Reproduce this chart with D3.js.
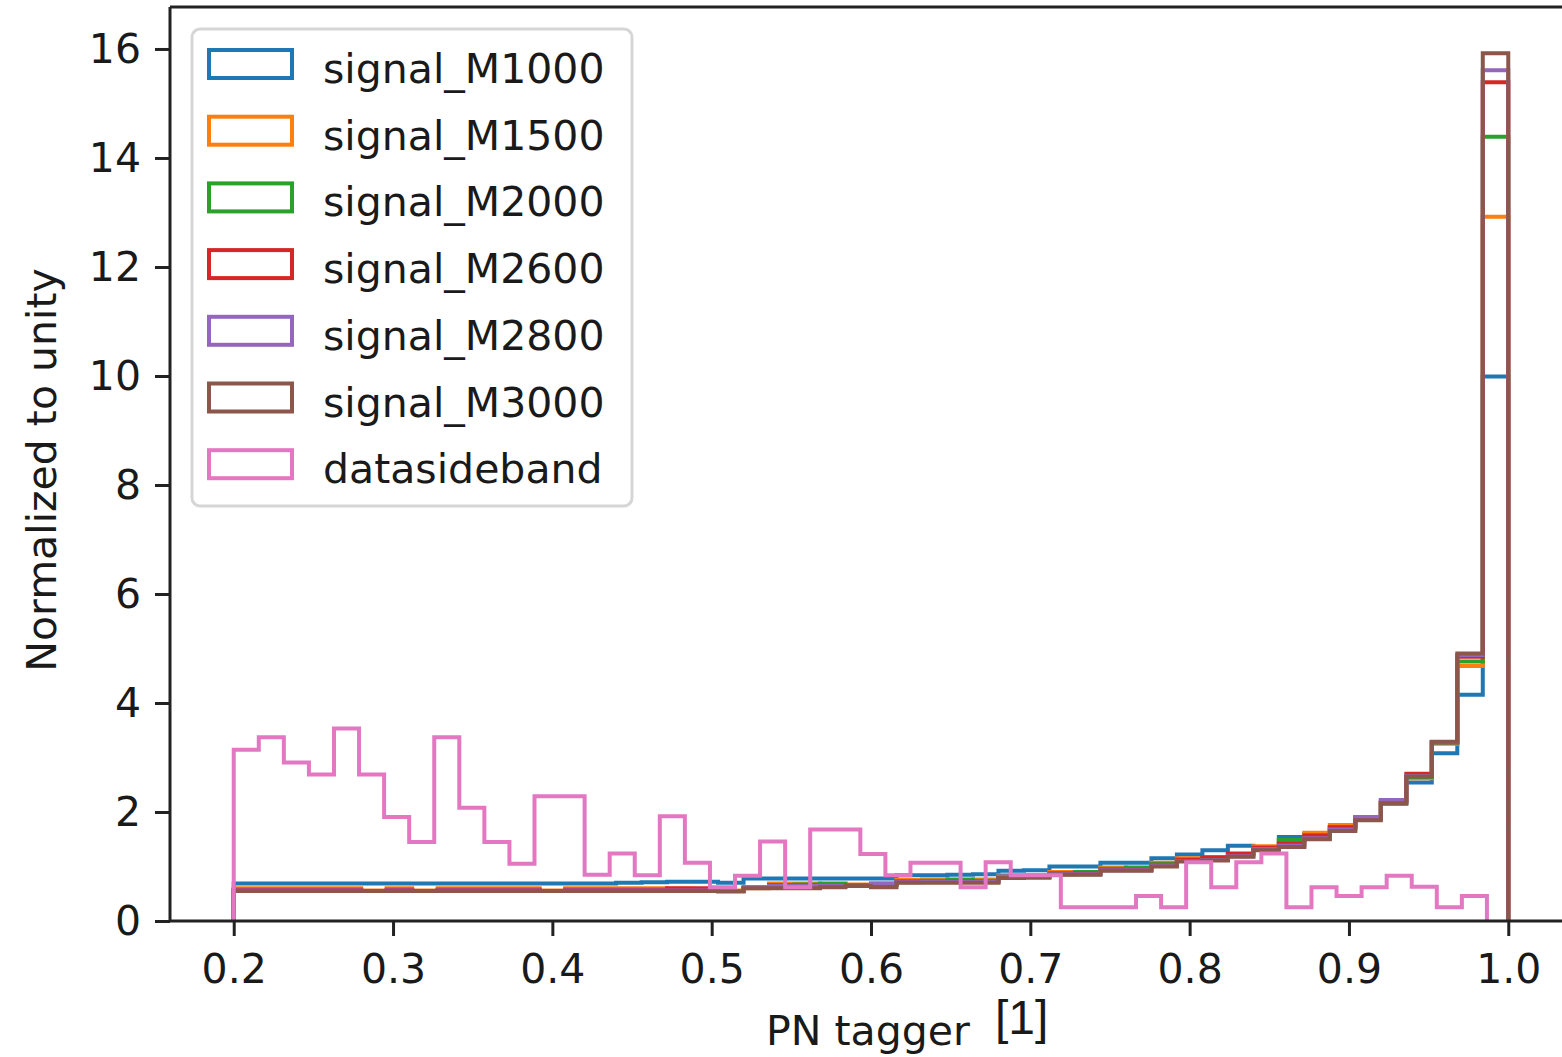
<!DOCTYPE html>
<html>
<head>
<meta charset="utf-8">
<script src="https://cdn.jsdelivr.net/npm/d3@7"></script>
<style>
  html, body { margin: 0; padding: 0; background: #fff; }
  svg text { font-family: "DejaVu Sans", sans-serif; fill: #1a1a1a; }
</style>
</head>
<body>
<svg id="chart" width="1562" height="1057"></svg>
<script>
// histogram binning (matplotlib bins=50, range taken from each sample)
const signalRange = [0.2, 1.0];
const dataRange = [0.2, 0.9866];
const nBins = 50;

const seriesLabels = ['signal_M1000', 'signal_M1500', 'signal_M2000', 'signal_M2600',
                      'signal_M2800', 'signal_M3000', 'datasideband'];

const m1000 = [0.69,0.69,0.69,0.69,0.69,0.69,0.69,0.69,0.69,0.69,0.69,0.69,0.69,0.69,0.69,
               0.70,0.71,0.72,0.72,0.70,0.78,0.78,0.78,0.78,0.78,0.78,0.84,0.84,0.85,0.86,
               0.92,0.93,1.00,1.00,1.07,1.07,1.15,1.22,1.30,1.38,1.36,1.54,1.60,1.72,1.88,
               2.15,2.54,3.08,4.15,9.99];
const m1500 = [0.60,0.60,0.60,0.60,0.60,0.56,0.60,0.56,0.60,0.60,0.60,0.60,0.56,0.60,0.60,
               0.60,0.60,0.59,0.58,0.56,0.60,0.69,0.69,0.68,0.67,0.69,0.75,0.76,0.75,0.76,
               0.84,0.84,0.90,0.89,0.98,0.97,1.07,1.15,1.16,1.23,1.37,1.48,1.62,1.76,1.90,
               2.18,2.62,3.25,4.68,12.92];
const m2000 = [0.58,0.58,0.58,0.58,0.58,0.55,0.58,0.55,0.58,0.58,0.58,0.58,0.55,0.58,0.58,
               0.58,0.58,0.58,0.57,0.55,0.62,0.66,0.67,0.69,0.66,0.67,0.73,0.74,0.76,0.74,
               0.82,0.82,0.88,0.90,0.96,0.98,1.05,1.13,1.16,1.22,1.35,1.49,1.58,1.72,1.90,
               2.18,2.64,3.27,4.76,14.39];
const m2600 = [0.57,0.57,0.57,0.57,0.57,0.55,0.57,0.55,0.57,0.57,0.57,0.57,0.55,0.57,0.57,
               0.57,0.57,0.60,0.60,0.55,0.61,0.65,0.65,0.66,0.65,0.66,0.72,0.72,0.73,0.72,
               0.80,0.80,0.86,0.87,0.94,0.94,1.03,1.12,1.17,1.24,1.34,1.42,1.56,1.72,1.90,
               2.20,2.70,3.28,4.85,15.39];
const m2800 = [0.56,0.56,0.56,0.56,0.56,0.55,0.56,0.55,0.56,0.56,0.56,0.56,0.55,0.56,0.56,
               0.56,0.56,0.56,0.56,0.55,0.61,0.64,0.64,0.65,0.65,0.69,0.71,0.72,0.72,0.72,
               0.82,0.83,0.86,0.86,0.93,0.93,1.02,1.10,1.12,1.19,1.32,1.38,1.52,1.68,1.91,
               2.22,2.66,3.28,4.88,15.61];
const m3000 = [0.55,0.55,0.55,0.55,0.55,0.55,0.55,0.55,0.55,0.55,0.55,0.55,0.55,0.55,0.55,
               0.55,0.55,0.55,0.55,0.54,0.60,0.60,0.60,0.62,0.64,0.62,0.70,0.70,0.70,0.70,
               0.79,0.80,0.85,0.85,0.92,0.92,1.00,1.09,1.11,1.18,1.30,1.36,1.50,1.65,1.85,
               2.16,2.65,3.29,4.91,15.92];
const datasideband = [3.14,3.37,2.91,2.69,3.53,2.69,1.91,1.45,3.37,2.08,1.45,1.05,2.29,2.29,0.85,
                      1.24,0.84,1.92,1.07,0.62,0.83,1.46,0.62,1.68,1.68,1.23,0.84,1.07,1.07,0.62,
                      1.08,0.84,0.84,0.25,0.25,0.25,0.46,0.25,1.08,0.62,1.08,1.24,0.25,0.62,0.46,
                      0.62,0.83,0.63,0.25,0.46];

const xTicks = [0.2, 0.3, 0.4, 0.5, 0.6, 0.7, 0.8, 0.9, 1.0];
const yTicks = [0, 2, 4, 6, 8, 10, 12, 14, 16];

const colors = ['#1f77b4', '#ff7f0e', '#2ca02c', '#d62728', '#9467bd', '#8c564b', '#e377c2'];

const series = [
    { label: seriesLabels[0], values: m1000, range: signalRange },
    { label: seriesLabels[1], values: m1500, range: signalRange },
    { label: seriesLabels[2], values: m2000, range: signalRange },
    { label: seriesLabels[3], values: m2600, range: signalRange },
    { label: seriesLabels[4], values: m2800, range: signalRange },
    { label: seriesLabels[5], values: m3000, range: signalRange },
    { label: seriesLabels[6], values: datasideband, range: dataRange }
];

const svg = d3.select('#chart');
const plotLeft = 170, plotRight = 1572, plotTop = 7, plotBottom = 921;

const x = d3.scaleLinear().domain([0.16, 1.04]).range([plotLeft, plotRight]);
const y = d3.scaleLinear().domain([0, 16.77]).range([plotBottom, plotTop]);

svg.append('defs').append('clipPath').attr('id', 'plot-clip')
    .append('rect')
    .attr('x', plotLeft).attr('y', plotTop)
    .attr('width', plotRight - plotLeft).attr('height', plotBottom - plotTop);

// step outline like histtype='step'
function stepPoints(s) {
    const w = (s.range[1] - s.range[0]) / nBins;
    const pts = [[s.range[0], 0]];
    s.values.forEach((v, i) => {
        pts.push([s.range[0] + i * w, v]);
        pts.push([s.range[0] + (i + 1) * w, v]);
    });
    pts.push([s.range[1], 0]);
    return pts;
}

const line = d3.line().x(d => x(d[0])).y(d => y(d[1]));

const plot = svg.append('g').attr('clip-path', 'url(#plot-clip)');
plot.selectAll('path.hist')
    .data(series)
    .enter()
    .append('path')
    .attr('class', 'hist')
    .attr('d', d => line(stepPoints(d)))
    .attr('fill', 'none')
    .attr('stroke', (d, i) => colors[i])
    .attr('stroke-width', 4)
    .attr('stroke-linejoin', 'miter');

// axes
const xAxis = svg.append('g')
    .attr('transform', `translate(0,${plotBottom})`)
    .call(d3.axisBottom(x).tickValues(xTicks).tickFormat(d3.format('.1f')).tickSize(15).tickPadding(18));
const yAxis = svg.append('g')
    .attr('transform', `translate(${plotLeft},0)`)
    .call(d3.axisLeft(y).tickValues(yTicks).tickSize(15).tickPadding(14));

[xAxis, yAxis].forEach(a => {
    a.select('.domain').remove();
    a.selectAll('line').attr('stroke', '#222').attr('stroke-width', 3);
    a.selectAll('text').style('font-size', '41px').attr('fill', '#1a1a1a');
});

// spines
svg.append('line').attr('x1', plotLeft).attr('x2', plotLeft).attr('y1', plotTop).attr('y2', plotBottom)
    .attr('stroke', '#222').attr('stroke-width', 3);
svg.append('line').attr('x1', plotLeft).attr('x2', plotRight).attr('y1', plotBottom).attr('y2', plotBottom)
    .attr('stroke', '#222').attr('stroke-width', 3);
svg.append('line').attr('x1', plotLeft).attr('x2', plotRight).attr('y1', plotTop).attr('y2', plotTop)
    .attr('stroke', '#222').attr('stroke-width', 3);

// axis labels
svg.append('text')
    .attr('x', 868).attr('y', 1045)
    .attr('text-anchor', 'middle')
    .style('font-size', '41px')
    .text('PN tagger');
svg.append('text')
    .attr('x', 995).attr('y', 1034)
    .style('font-family', '"Liberation Sans", Arial, sans-serif')
    .style('font-size', '48px')
    .attr('fill', '#000')
    .text('[1]');
svg.append('text')
    .attr('transform', 'translate(56,470) rotate(-90)')
    .attr('text-anchor', 'middle')
    .style('font-size', '41px')
    .text('Normalized to unity');

// legend
const legend = svg.append('g');
legend.append('rect')
    .attr('x', 192).attr('y', 29).attr('width', 440).attr('height', 477)
    .attr('rx', 8).attr('ry', 8)
    .attr('fill', 'rgba(255,255,255,0.8)')
    .attr('stroke', '#d6d6d6').attr('stroke-width', 3);

const rowH = 66.7;
const rows = legend.selectAll('g.item')
    .data(series)
    .enter()
    .append('g')
    .attr('class', 'item')
    .attr('transform', (d, i) => `translate(0,${49 + i * rowH})`);
rows.append('rect')
    .attr('x', 209).attr('y', 1).attr('width', 83).attr('height', 28)
    .attr('fill', 'none')
    .attr('stroke', (d, i) => colors[i])
    .attr('stroke-width', 4);
rows.append('text')
    .attr('x', 323).attr('y', 34)
    .style('font-size', '41px')
    .text(d => d.label);
</script>
</body>
</html>
